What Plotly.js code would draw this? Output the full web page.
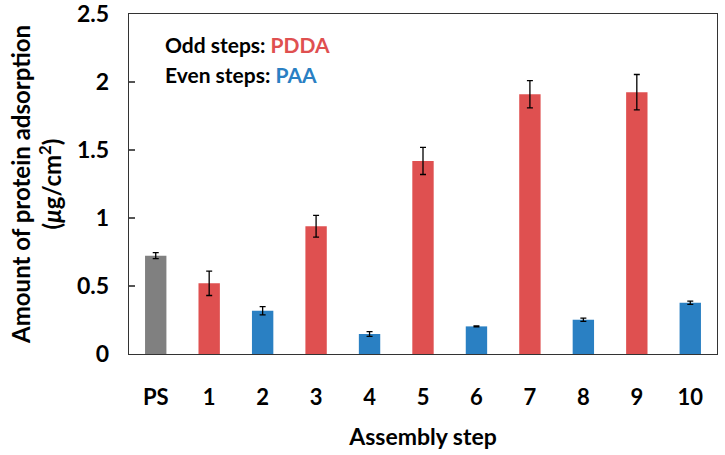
<!DOCTYPE html>
<html>
<head>
<meta charset="utf-8">
<script src="https://cdn.plot.ly/plotly-3.0.1.min.js"></script>
<style>html,body{margin:0;padding:0;background:#fff;}#chart{width:725px;height:455px;}</style>
</head>
<body>
<div id="chart"></div>
<script>
var steps = ["PS", "1", "2", "3", "4", "5", "6", "7", "8", "9", "10"];
var adsorption = [0.723, 0.52, 0.318, 0.94, 0.147, 1.42, 0.203, 1.91, 0.252, 1.925, 0.377];
var errors = [0.022, 0.09, 0.03, 0.08, 0.017, 0.1, 0.003, 0.1, 0.012, 0.13, 0.012];
var yTicks = [0, 0.5, 1, 1.5, 2, 2.5];

var GRAY = "#808080", RED = "#DF5050", BLUE = "#2A80C3";
var colors = steps.map(function (s) {
  if (s === "PS") return GRAY;
  return (parseInt(s, 10) % 2 === 1) ? RED : BLUE;
});

var FONT = "Lato, 'Open Sans', sans-serif";

var trace = {
  type: "bar",
  x: steps,
  y: adsorption,
  marker: { color: colors, line: { width: 0 } },
  error_y: { type: "data", array: errors, visible: true, color: "#000", thickness: 1.3, width: 3 },
  hoverinfo: "x+y"
};

var layout = {
  width: 725, height: 455,
  margin: { l: 129, r: 8, t: 14, b: 101 },
  paper_bgcolor: "#fff", plot_bgcolor: "#fff",
  bargap: 0.6,
  showlegend: false,
  font: { family: FONT, color: "#000" },
  xaxis: {
    type: "category",
    showline: true, linecolor: "#333", linewidth: 1.3, mirror: true,
    ticks: "", showgrid: false, zeroline: false,
    tickfont: { size: 22, family: FONT, weight: "bold", color: "#000" },
    ticklabelstandoff: 23,
    title: { text: "<b>Assembly step</b>", font: { size: 23, family: FONT, color: "#000" }, standoff: 20 }
  },
  yaxis: {
    range: [0, 2.5],
    tickvals: yTicks,
    ticktext: yTicks.map(String),
    showline: true, linecolor: "#333", linewidth: 1.3, mirror: true,
    ticks: "inside", ticklen: 6, tickcolor: "#555", tickwidth: 1.2,
    showgrid: false, zeroline: false,
    tickfont: { size: 23, family: FONT, weight: "bold", color: "#000" },
    ticklabelstandoff: 14,
    ticklabeloverflow: "allow",
    title: { text: "<b>Amount of protein adsorption<br>(<i>μ</i>g/cm<sup>2</sup>)</b>", font: { size: 24, family: FONT, color: "#000" }, standoff: 8 }
  },
  annotations: [
    { xref: "paper", yref: "paper", x: 0.057, y: 0.909, xanchor: "left", yanchor: "middle", showarrow: false,
      text: "<b>Odd steps: <span style='color:" + RED + "'>PDDA</span></b>", font: { size: 21, family: FONT, color: "#000" } },
    { xref: "paper", yref: "paper", x: 0.057, y: 0.821, xanchor: "left", yanchor: "middle", showarrow: false,
      text: "<b>Even steps: <span style='color:" + BLUE + "'>PAA</span></b>", font: { size: 21, family: FONT, color: "#000" } }
  ]
};

Plotly.newPlot("chart", [trace], layout, { displayModeBar: false, staticPlot: true });
</script>
</body>
</html>
